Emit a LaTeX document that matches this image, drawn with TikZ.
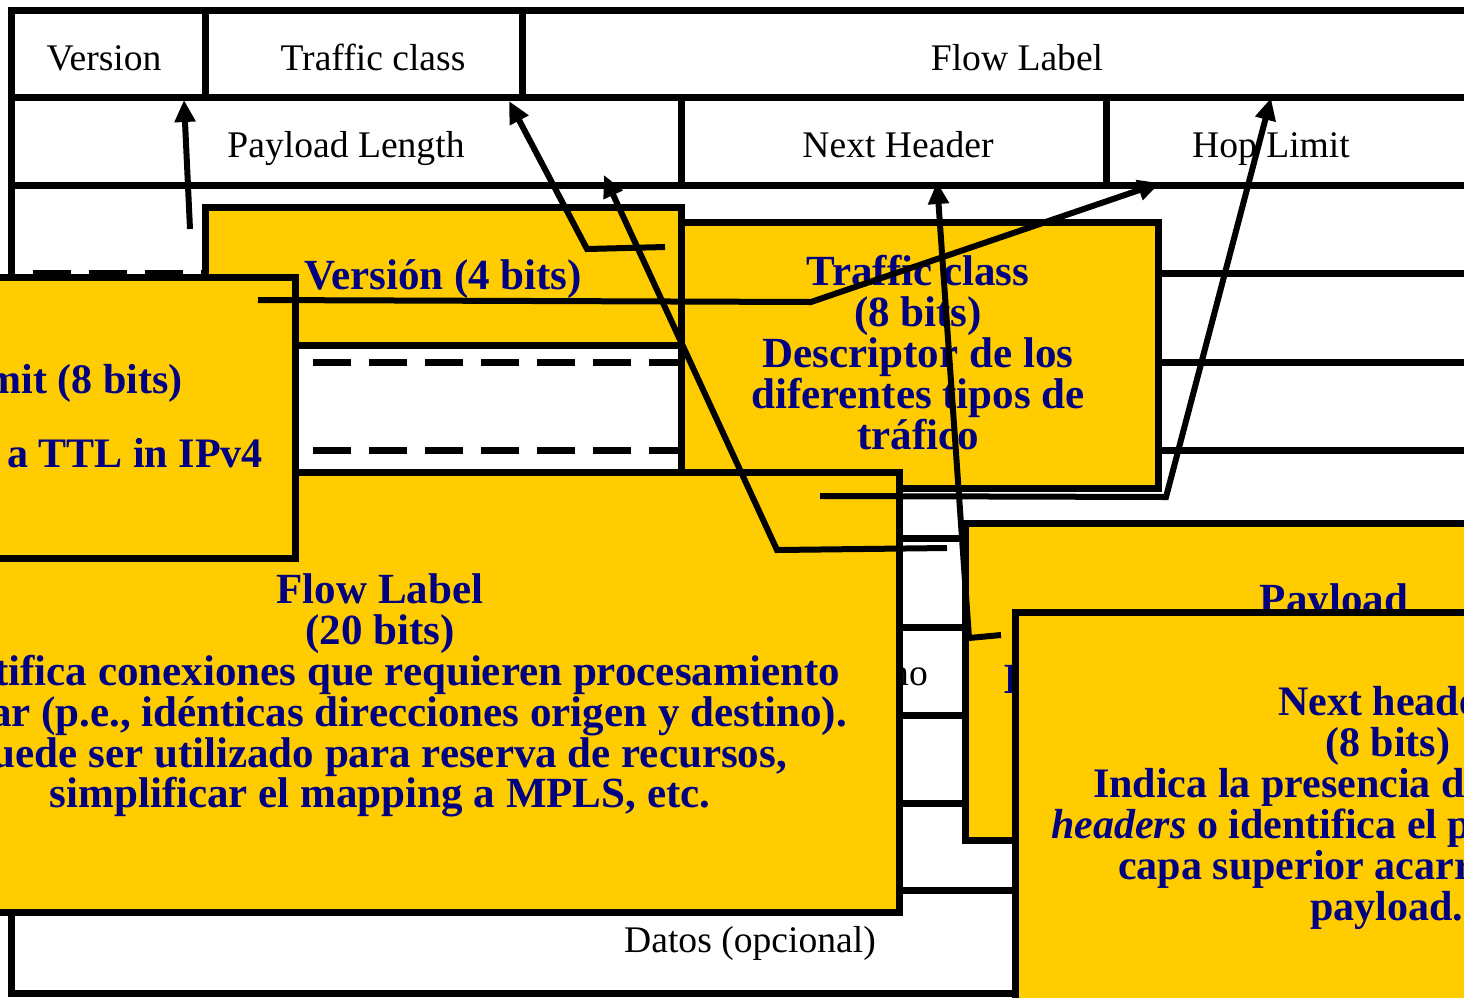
\documentclass[tikz,border=0pt]{standalone}
\usepackage{fontspec}
\setmainfont{Liberation Serif}
\usetikzlibrary{arrows.meta}
\definecolor{navy}{HTML}{000080}
\definecolor{slideyellow}{HTML}{FFCC00}
\begin{document}
\begin{tikzpicture}[x=1pt,y=-1pt,
  grid/.style={line width=7pt, line cap=rect},
  dgrid/.style={line width=7pt, line cap=butt, dash pattern=on 38pt off 18pt, dash phase=34pt},
  cellt/.style={font=\fontsize{37.6}{40}\selectfont, anchor=base, inner sep=0pt},
  boxt/.style={font=\bfseries\fontsize{43}{41}\selectfont, text=navy, inner sep=0pt},
  boxs/.style={boxt, font=\bfseries\fontsize{42}{41}\selectfont},
  box/.style={fill=slideyellow, draw=black, line width=7pt, line join=miter},
  conn/.style={line width=6pt, line join=miter, -{Triangle[length=22pt,width=20pt]}}]
\useasboundingbox (0,0) rectangle (1464,997);
\fill[white] (0,0) rectangle (1464,997);

% ---- background header table ----
\draw[grid] (11,10) -- (1480,10);
\draw[grid] (11,97) -- (1480,97);
\draw[grid] (11,185) -- (1480,185);
\foreach \yy in {273,362,450,627,715,803} {
  \draw[dgrid] (11,\yy) -- (681,\yy);
  \draw[grid] (681,\yy) -- (1480,\yy);
}
\draw[grid] (11,538) -- (1480,538);
\draw[grid] (11,890) -- (1480,890);
\draw[grid] (11,993) -- (1480,993);
\draw[grid] (11,10) -- (11,993);
\draw[grid] (205,10) -- (205,97);
\draw[grid] (522,10) -- (522,97);
\draw[grid] (681,97) -- (681,185);
\draw[grid] (1106,97) -- (1106,185);

\node[cellt] (cVersion) at (104,70) {Version};
\node[cellt] (cTraffic) at (373,70) {Traffic class};
\node[cellt] (cFlow) at (1017,70) {Flow Label};
\node[cellt] (cPayload) at (346,157) {Payload Length};
\node[cellt] (cNext) at (898,157) {Next Header};
\node[cellt] (cHop) at (1271,157) {Hop Limit};
\node[cellt] (cDatos) at (750,952) {Datos (opcional)};
\node[cellt, anchor=base east] (cDest) at (928,685) {no};

% ---- Version box ----
\draw[box] (205,207) rectangle (681,345);
\node[boxt, anchor=base] (tVer) at (443,289) {Versión (4 bits)};

% ---- Traffic class box ----
\draw[box] (681,222) rectangle (1158,488);
\node[boxt, anchor=base] (tTc1) at (918,285) {Traffic class};
\node[boxt, anchor=base] (tTc2) at (918,326) {(8 bits)};
\node[boxt, anchor=base] (tTc3) at (918,367) {Descriptor de los};
\node[boxt, anchor=base] (tTc4) at (918,408) {diferentes tipos de};
\node[boxt, anchor=base] (tTc5) at (918,449) {tráfico};

% ---- Flow label box ----
\draw[box] (-30,472) rectangle (899,912);
\node[boxt, anchor=base] (tFl1) at (380,603) {Flow Label};
\node[boxt, anchor=base] (tFl2) at (380,644) {(20 bits)};
\node[boxt, anchor=base east] (tFl3) at (840,685) {Identifica conexiones que requieren procesamiento};
\node[boxt, anchor=base east] (tFl4) at (847,726) {similar (p.e., idénticas direcciones origen y destino).};
\node[boxt, anchor=base east] (tFl5) at (787,767) {Puede ser utilizado para reserva de recursos,};
\node[boxt, anchor=base] (tFl6) at (380,807) {simplificar el mapping a MPLS, etc.};

% ---- Hop limit box ----
\draw[box] (-30,277) rectangle (295,558);
\node[boxs, anchor=base east] (tHl1) at (183,393) {Hop Limit (8 bits)};
\node[boxs, anchor=base east] (tHl2) at (263,467) {a TTL in IPv4};

% ---- Payload box ----
\draw[box] (965,523) rectangle (1500,840);
\node[boxt, anchor=base] (tPl1) at (1334,613) {Payload};
\node[boxt, anchor=base west] (tPl2) at (1003,693) {I};

% ---- Next header box ----
\draw[box] (1015,612) rectangle (1500,1020);
\node[boxs, anchor=base west] (tNh1) at (1278,715) {Next header};
\node[boxs, anchor=base west] (tNh2) at (1325,756) {(8 bits)};
\node[boxs, anchor=base west] (tNh3) at (1093,797) {Indica la presencia de extension};
\node[boxs, anchor=base west] (tNh4) at (1051,838) {\textit{headers} o identifica el protocolo de};
\node[boxs, anchor=base west] (tNh5) at (1118,879) {capa superior acarreado en el};
\node[boxs, anchor=base west] (tNh6) at (1310,920) {payload.};

% ---- connectors ----
\coordinate (aVs) at (190,229);
\coordinate (aVt) at (184,100);
\draw[conn] (aVs) -- (aVt);

\coordinate (aTs) at (665,247);
\coordinate (aTc) at (587,249);
\coordinate (aTt) at (509,101);
\draw[conn] (aTs) -- (aTc) -- (aTt);

\coordinate (aPs) at (947,548);
\coordinate (aPc) at (777,550);
\coordinate (aPt) at (604,175);
\draw[conn] (aPs) -- (aPc) -- (aPt);

\coordinate (aNs) at (1001,635);
\coordinate (aNc) at (969,638);
\coordinate (aNt) at (937,182);
\draw[conn] (aNs) -- (aNc) -- (aNt);

\coordinate (aHs) at (258,300);
\coordinate (aHc) at (811,302);
\coordinate (aHt) at (1160,183);
\draw[conn] (aHs) -- (aHc) -- (aHt);

\coordinate (aFs) at (820,496);
\coordinate (aFc) at (1166,497);
\coordinate (aFt) at (1271,98);
\draw[conn] (aFs) -- (aFc) -- (aFt);
\end{tikzpicture}
\end{document}
